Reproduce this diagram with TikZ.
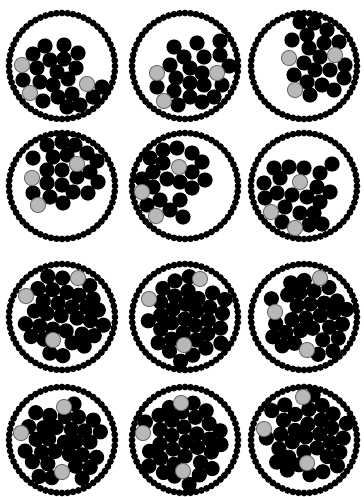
\documentclass[tikz,border=0pt]{standalone}
\tikzset{
  bead/.style={fill=black},
  blackdisk/.style={fill=black},
  graydisk/.style={fill=black!28, draw=black!60, line width=0.5pt},
}
\newcommand{\ringR}{53}
\newcommand{\diskR}{7.6}
% ring of small beads round a cell
\newcommand{\beadring}[2]{%
  \foreach \a in {0,6,...,354}
    \fill[bead] (#1,#2) ++(\a:\ringR) circle (3.4);
}

\begin{document}
\begin{tikzpicture}[x=0.02cm, y=-0.02cm]
  \useasboundingbox (0,0) rectangle (363,497);
  \fill[white] (0,0) rectangle (363,497);

  % rings
  \foreach \cx in {62,185,304}{
    \foreach \cy in {66,186,317,440}{
      \beadring{\cx}{\cy}
    }
  }

  % loose clusters (upper two rows)
  \foreach \p in {(45,46),(64,45),(33,54),(78,53),(50,60),(64,59),(37,68),(57,72),(76,68),(23,80),
                  (40,82),(53,85),(68,79),(102,87),(43,101),(58,97),(72,94),(93,97),(67,107),(80,105)}
    \fill[blackdisk] \p circle (\diskR);
  \foreach \p in {(22,65),(87,84),(30,93)}
    \filldraw[graydisk] \p circle (\diskR);

  \foreach \p in {(174,47),(197,43),(220,41),(184,57),(204,57),(220,55),(170,65),(190,68),(229,66),(176,78),
                  (202,73),(157,87),(174,91),(190,83),(204,85),(222,85),(178,105),(190,97),(202,102),(214,97)}
    \fill[blackdisk] \p circle (\diskR);
  \foreach \p in {(157,73),(217,73),(164,101)}
    \filldraw[graydisk] \p circle (\diskR);

  \foreach \p in {(300,22),(314,23),(327,30),(292,40),(307,35),(324,43),(339,42),(309,48),(320,57),(304,63),
                  (294,75),(315,70),(330,70),(345,65),(307,82),(322,85),(310,95),(334,90),(344,78)}
    \fill[blackdisk] \p circle (\diskR);
  \foreach \p in {(289,58),(335,55),(295,90)}
    \filldraw[graydisk] \p circle (\diskR);

  \foreach \p in {(47,145),(62,142),(75,145),(33,158),(53,157),(67,155),(87,153),(97,161),(47,170),(62,170),
                  (90,172),(47,183),(62,185),(77,177),(98,182),(33,193),(50,197),(73,192),(88,193),(63,203)}
    \fill[blackdisk] \p circle (\diskR);
  \foreach \p in {(77,164),(32,178),(38,205)}
    \filldraw[graydisk] \p circle (\diskR);

  \foreach \p in {(163,150),(177,148),(150,158),(192,153),(163,163),(202,162),(153,172),(192,172),(142,179),(167,179),
                  (180,182),(205,180),(153,187),(192,188),(160,200),(180,200),(147,205),(170,210),(183,217)}
    \fill[blackdisk] \p circle (\diskR);
  \foreach \p in {(179,167),(142,192),(156,216)}
    \filldraw[graydisk] \p circle (\diskR);

  \foreach \p in {(274,168),(289,167),(304,168),(332,164),(320,173),(264,183),(280,178),(317,187),(265,198),(277,193),
                  (292,195),(307,197),(330,192),(285,207),(320,202),(300,213),(314,213),(282,222),(309,225),(322,224)}
    \fill[blackdisk] \p circle (\diskR);
  \foreach \p in {(300,182),(271,212),(295,228)}
    \filldraw[graydisk] \p circle (\diskR);

  % packed cells (lower two rows): centre / shift of the pack / lattice angle / three grey disks
  \pgfmathsetseed{11}
  \foreach \cx/\cy/\ox/\oy/\rot/\ax/\ay/\bx/\by/\qx/\qy in {
      62/317/3.9/-3.9/10/16/-39/-36/-21/-9/23,
      185/318/5/2/35/15/-39/-36/-19/-1/27,
      305/318/5.5/0/50/15/-40/-30/-6/2/32,
      63/441/-3.9/3.9/5/1/-34/-42/-8/-1/31,
      185/441/-5/2/25/-4/-38/-42/-8/-2/30,
      305/438/3/-4.5/40/-2/-41/-41/-9/2/25}{
    \foreach \i in {-5,...,5}{
      \foreach \j in {-4,...,4}{
        \pgfmathsetmacro{\u}{(\i+0.5*\j)*14.2}
        \pgfmathsetmacro{\v}{\j*12.3}
        \pgfmathsetmacro{\px}{\u*cos(\rot)-\v*sin(\rot)+1.5*rand}
        \pgfmathsetmacro{\py}{\u*sin(\rot)+\v*cos(\rot)+1.5*rand}
        \pgfmathtruncatemacro{\keep}{(veclen((\px)-(\ox),(\py)-(\oy))<44.5)*(veclen(\px,\py)<46.8)*(veclen((\px)-(\ax),(\py)-(\ay))>8)*(veclen((\px)-(\bx),(\py)-(\by))>8)*(veclen((\px)-(\qx),(\py)-(\qy))>8)}
        \ifnum\keep=1
          \fill[blackdisk] ({\cx+(\px)},{\cy+(\py)}) circle (\diskR);
        \fi
      }
    }
    \foreach \gx/\gy in {\ax/\ay,\bx/\by,\qx/\qy}
      \filldraw[graydisk] ({\cx+(\gx)},{\cy+(\gy)}) circle (\diskR);
  }
\end{tikzpicture}
\end{document}
